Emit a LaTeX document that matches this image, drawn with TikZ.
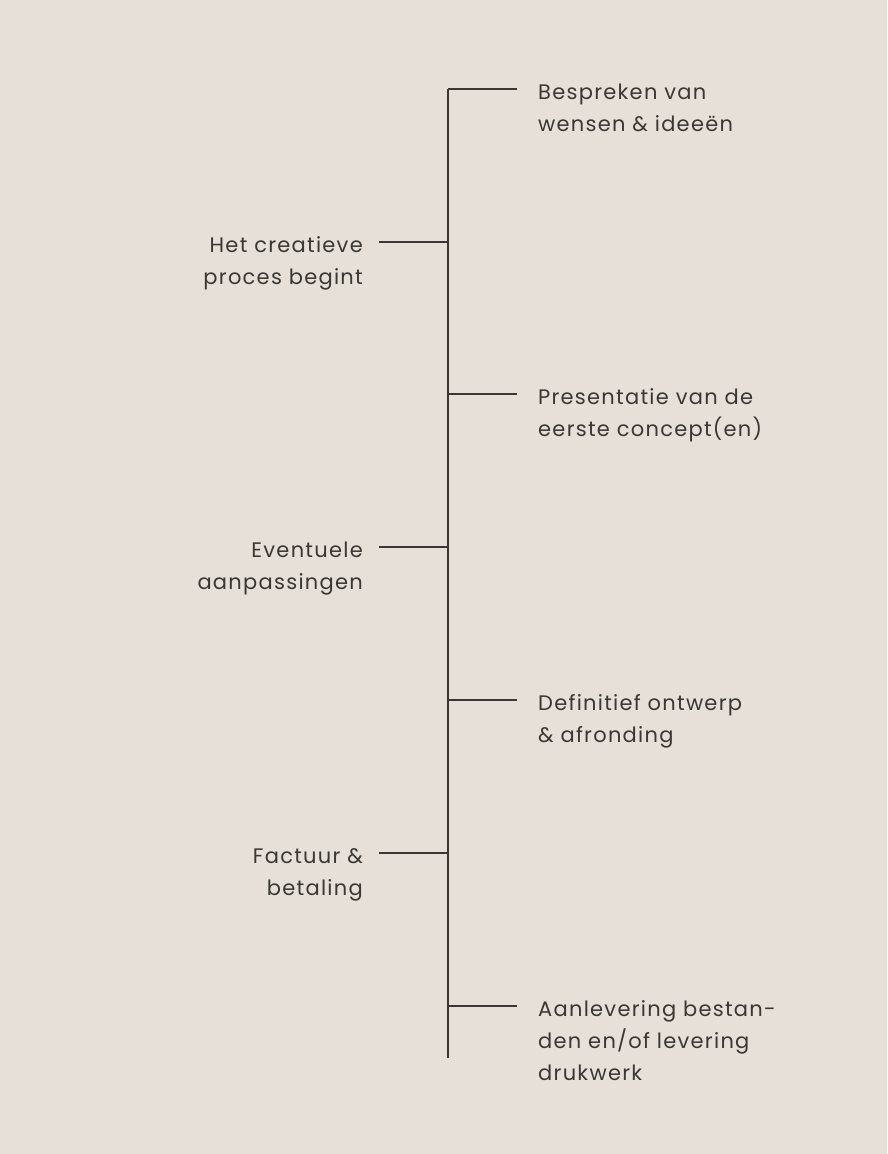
\documentclass[tikz,border=0pt]{standalone}
\usepackage{fontspec}
\setmainfont{Poppins}[LetterSpace=6]
\definecolor{bg}{HTML}{E7E0D9}
\definecolor{ink}{HTML}{3A3734}
\begin{document}
\begin{tikzpicture}[x=1pt,y=-1pt,
  lbl/.style={inner sep=0pt, text=ink, font=\fontsize{21}{32}\selectfont},
  rlbl/.style={lbl, anchor=base west, align=left},
  llbl/.style={lbl, anchor=base east, align=right},
  ln/.style={draw=ink, line width=1.4pt}]
\fill[bg] (0,0) rectangle (887,1154);
\useasboundingbox (0,0) rectangle (887,1154);
% spine
\coordinate (top) at (448,89);
\coordinate (bot) at (448,1058);
\draw[ln] (top) -- (bot);
% junctions
\coordinate (j1) at (448,89);
\coordinate (j2) at (448,242);
\coordinate (j3) at (448,394);
\coordinate (j4) at (448,547);
\coordinate (j5) at (448,700);
\coordinate (j6) at (448,853);
\coordinate (j7) at (448,1006);
\coordinate (e1) at (517,89);
\coordinate (e2) at (379,242);
\coordinate (e3) at (517,394);
\coordinate (e4) at (379,547);
\coordinate (e5) at (517,700);
\coordinate (e6) at (379,853);
\coordinate (e7) at (517,1006);
\foreach \i in {1,...,7} \draw[ln] (j\i) -- (e\i);
% labels (base anchor = baseline of last line)
\node[rlbl] (t1) at (538,131) {Bespreken van\\wensen \& ideeën};
\node[llbl] (t2) at (363,284) {Het creatieve\\proces begint};
\node[rlbl] (t3) at (538,436) {Presentatie van de\\eerste concept(en)};
\node[llbl] (t4) at (363,589) {Eventuele\\aanpassingen};
\node[rlbl] (t5) at (538,742) {Definitief ontwerp\\\& afronding};
\node[llbl] (t6) at (363,895) {Factuur \&\\betaling};
\node[rlbl] (t7) at (538,1080) {Aanlevering bestan-\\den en/of levering\\drukwerk};
\end{tikzpicture}
\end{document}
